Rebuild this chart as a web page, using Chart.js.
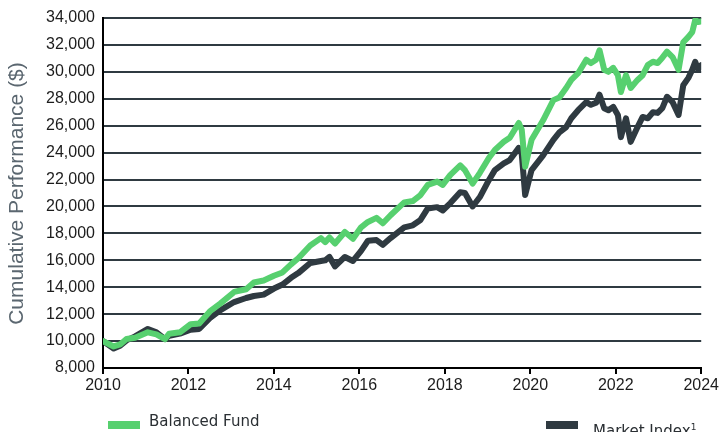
<!DOCTYPE html>
<html>
<head>
<meta charset="utf-8">
<script src="https://cdn.jsdelivr.net/npm/chart.js@4/dist/chart.umd.min.js"></script>
<style>
  body { margin: 0; background: #fff; }
  #wrap { position: relative; width: 721px; height: 432px; overflow: hidden; }
  .legend-item { position: absolute; font-family: "DejaVu Sans", sans-serif; font-size: 15px; line-height: 15px; color: #2a2f33; white-space: nowrap; }
  .swatch { position: absolute; width: 32px; height: 8px; }
</style>
</head>
<body>
<div id="wrap">
  <canvas id="perfChart"></canvas>
  <div class="swatch" style="left:108px; top:421px; background:#57d06f;"></div>
  <div class="legend-item" style="left:149px; top:414px;">Balanced Fund</div>
  <div class="swatch" style="left:546px; top:421px; background:#2f3a41;"></div>
  <div class="legend-item" style="left:593px; top:420px;">Market Index<sup style="font-size:9px; vertical-align:6px;">1</sup></div>
</div>
<script>
// time points (decimal years)
const years = [
  2010.0, 2010.25, 2010.4, 2010.55, 2010.75, 2011.05, 2011.25, 2011.45, 2011.55, 2011.8,
  2012.05, 2012.25, 2012.5, 2012.75, 2013.07, 2013.35, 2013.53, 2013.76, 2014.0, 2014.2,
  2014.4, 2014.57, 2014.85, 2015.1, 2015.2, 2015.3, 2015.43, 2015.66, 2015.85, 2016.04,
  2016.2, 2016.4, 2016.55, 2016.73, 2017.05, 2017.25, 2017.43, 2017.6, 2017.82, 2017.95,
  2018.13, 2018.36, 2018.47, 2018.65, 2018.82, 2019.03, 2019.17, 2019.38, 2019.52, 2019.73,
  2019.8, 2019.88, 2020.03, 2020.3, 2020.54, 2020.68, 2020.84, 2020.96, 2021.12, 2021.31,
  2021.42, 2021.54, 2021.62, 2021.73, 2021.83, 2021.94, 2022.05, 2022.12, 2022.24, 2022.35,
  2022.51, 2022.63, 2022.75, 2022.87, 2022.98, 2023.09, 2023.2, 2023.33, 2023.47, 2023.58,
  2023.7, 2023.79, 2023.86, 2023.93, 2024.0
];

const balancedFund = [
  10000, 9600, 9750, 10150, 10250, 10650, 10500, 10150, 10550, 10650,
  11250, 11300, 12200, 12800, 13650, 13850, 14350, 14500, 14850, 15100,
  15700, 16150, 17100, 17650, 17350, 17700, 17250, 18100, 17600, 18450,
  18850, 19150, 18750, 19350, 20300, 20400, 20850, 21600, 21850, 21600,
  22350, 23050, 22700, 21700, 22500, 23600, 24200, 24800, 25100, 26200,
  25700, 22950, 24950, 26400, 27900, 28100, 28800, 29400, 29900, 30900,
  30650, 30900, 31600, 30150, 30000, 30300, 29750, 28500, 29750, 28800,
  29400, 29750, 30500, 30750, 30650, 31050, 31500, 31100, 30150, 32200,
  32600, 32950, 33850, 33700, 33750
];

const marketIndex = [
  10000, 9450, 9650, 10050, 10350, 10900, 10650, 10150, 10400, 10550,
  10850, 10900, 11700, 12300, 12900, 13200, 13350, 13450, 13900, 14200,
  14700, 15050, 15800, 15950, 16000, 16250, 15550, 16250, 15950, 16700,
  17450, 17500, 17150, 17650, 18450, 18600, 19000, 19850, 19950, 19700,
  20250, 21050, 21000, 20000, 20700, 21950, 22700, 23200, 23450, 24350,
  23900, 20850, 22700, 23800, 24950, 25500, 25900, 26550, 27150, 27750,
  27550, 27700, 28300, 27300, 27150, 27400, 26800, 25150, 26550, 24800,
  25900, 26650, 26550, 27000, 26950, 27300, 28150, 27750, 26800, 29000,
  29550, 30150, 30750, 30150, 30500
];

const xTicks = [2010, 2012, 2014, 2016, 2018, 2020, 2022, 2024];
const yTicks = [8000, 10000, 12000, 14000, 16000, 18000, 20000, 22000, 24000, 26000, 28000, 30000, 32000, 34000];
const yTitle = 'Cumulative Performance ($)';

const ctx = document.getElementById('perfChart');

const toPoints = (vals) => vals.map((v, i) => ({ x: years[i], y: v }));

// axis title drawn by hand so it sits where the original one does
const yTitlePlugin = {
  id: 'yTitle',
  afterDraw(chart) {
    const c = chart.ctx;
    const area = chart.chartArea;
    c.save();
    c.translate(23, (area.top + area.bottom) / 2 + 0.5);
    c.rotate(-Math.PI / 2);
    c.font = '21px "Liberation Sans", Arial, sans-serif';
    c.fillStyle = '#5b6770';
    c.textAlign = 'center';
    c.textBaseline = 'alphabetic';
    c.fillText(yTitle, 0, 0);
    c.restore();
  }
};

new Chart(ctx, {
  type: 'line',
  data: {
    datasets: [
      {
        label: 'Balanced Fund',
        data: toPoints(balancedFund),
        borderColor: '#57d06f',
        borderWidth: 6,
        pointRadius: 0,
        tension: 0,
        borderJoinStyle: 'round',
        borderCapStyle: 'round'
      },
      {
        label: 'Market Index',
        data: toPoints(marketIndex),
        borderColor: '#2f3a41',
        borderWidth: 6,
        pointRadius: 0,
        tension: 0,
        borderJoinStyle: 'round',
        borderCapStyle: 'round'
      }
    ]
  },
  options: {
    responsive: true,
    maintainAspectRatio: false,
    animation: false,
    layout: { padding: { left: 0, right: 15, top: 18, bottom: 0 } },
    plugins: {
      legend: { display: false },
      tooltip: { enabled: false }
    },
    scales: {
      x: {
        type: 'linear',
        min: 2010,
        max: 2024,
        afterBuildTicks: (scale) => { scale.ticks = xTicks.map(v => ({ value: v })); },
        afterFit: (scale) => { scale.height = 64; },
        border: { color: '#000', width: 2 },
        grid: { drawOnChartArea: false, drawTicks: true, tickLength: 6, tickColor: '#000', lineWidth: 2 },
        ticks: {
          color: '#1c1c1c',
          padding: 2,
          maxRotation: 0,
          font: { family: '"Liberation Sans", Arial, sans-serif', size: 16 },
          callback: (v) => String(v)
        }
      },
      y: {
        min: 8000,
        max: 34000,
        afterBuildTicks: (scale) => { scale.ticks = yTicks.map(v => ({ value: v })); },
        afterFit: (scale) => { scale.width = 103; },
        border: { color: '#000', width: 2 },
        grid: { color: '#2f3a41', lineWidth: 2, drawTicks: false },
        ticks: {
          color: '#1c1c1c',
          padding: 8,
          font: { family: '"Liberation Sans", Arial, sans-serif', size: 16 },
          callback: (v) => v.toLocaleString('en-US')
        }
      }
    }
  },
  plugins: [yTitlePlugin]
});
</script>
</body>
</html>
